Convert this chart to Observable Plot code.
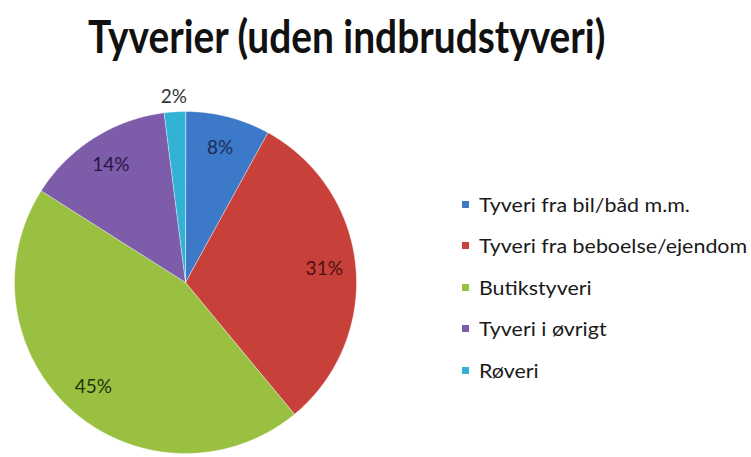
<!DOCTYPE html>
<html><head><meta charset="utf-8">
<script src="https://cdn.jsdelivr.net/npm/d3@7"></script>
<script src="https://cdn.jsdelivr.net/npm/@observablehq/plot@0.6"></script>
<style>
body{margin:0;background:#fff;font-family:Lato,"Open Sans",sans-serif;}
#wrap{position:relative;width:751px;height:457px;overflow:hidden;background:#fff}
#title{position:absolute;left:88px;top:13px;font-size:46px;line-height:46px;font-weight:bold;color:#111;white-space:nowrap;transform-origin:left center}
#chart{position:absolute;left:0;top:80px}
.lg{position:absolute;left:462px;height:20px;display:flex;align-items:center;white-space:nowrap}
.lg .sw{width:7px;height:7px;margin-right:10px;flex:none}
.lg .tx{font-size:19.5px;color:#1a1a1a;transform-origin:left center;display:inline-block}
</style></head><body>
<div id="wrap">
  <div id="title">Tyverier (uden indbrudstyveri)</div>
  <div id="chart"></div>
  <div id="legend"></div>
</div>
<script>
const categories = ["Tyveri fra bil/båd m.m.", "Tyveri fra beboelse/ejendom", "Butikstyveri", "Tyveri i øvrigt", "Røveri"];
const values = [8, 31, 45, 14, 2];
const labels = ["8%", "31%", "45%", "14%", "2%"];
const colors = ["#3C79C9", "#C8403A", "#99C040", "#7D5CA9", "#32B3D6"];
const labelColors = ["#1B2C55", "#4A1210", "#24330E", "#261845", "#333333"];

// Title width fit
const t = document.getElementById("title");
t.style.transform = `scaleX(${517 / t.offsetWidth})`;

const total = d3.sum(values);
const slices = [];
const labelData = [];
let acc = 0;
values.forEach((v, i) => {
  const a0 = acc / total * 2 * Math.PI;
  acc += v;
  const a1 = acc / total * 2 * Math.PI;
  slices.push({cat: categories[i], x: 0, y: 0});
  const n = Math.max(2, Math.ceil((a1 - a0) / (Math.PI / 360)));
  for (let k = 0; k <= n; k++) {
    const a = a0 + (a1 - a0) * k / n;
    slices.push({cat: categories[i], x: Math.sin(a), y: Math.cos(a)});
  }
  const am = (a0 + a1) / 2;
  const rr = v < 5 ? 1.085 : 0.815;
  labelData.push({cat: categories[i], x: rr * Math.sin(am), y: rr * Math.cos(am), text: labels[i], color: labelColors[i]});
});

const R = 171, cx = 185, cyTop = 202, W = 751, H = 377;
const chart = Plot.plot({
  width: W, height: H,
  marginLeft: cx - R, marginRight: W - (cx + R),
  marginTop: cyTop - R, marginBottom: H - (cyTop + R),
  x: {domain: [-1, 1], axis: null},
  y: {domain: [-1, 1], axis: null},
  color: {domain: categories, range: colors},
  style: {background: "transparent", overflow: "visible"},
  marks: [
    Plot.line(slices, {x: "x", y: "y", z: "cat", fill: "cat", stroke: "#ffffff", strokeWidth: 0.6, strokeOpacity: 0.7, curve: "linear-closed"}),
    ...labelData.map(d => Plot.text([d], {x: "x", y: "y", text: "text", fill: d.color, fontSize: 19, fontFamily: "Lato, sans-serif"}))
  ]
});
document.getElementById("chart").append(chart);

// Legend
const lg = document.getElementById("legend");
const tx = [];
categories.forEach((c, i) => {
  const row = document.createElement("div");
  row.className = "lg";
  row.style.top = (194 + i * 41.5) + "px";
  const sw = document.createElement("span");
  sw.className = "sw";
  sw.style.background = colors[i];
  const s = document.createElement("span");
  s.className = "tx";
  s.textContent = c;
  row.append(sw, s);
  lg.append(row);
  tx.push(s);
});
const maxW = d3.max(tx, s => s.offsetWidth);
const sc = 268 / maxW;
tx.forEach(s => s.style.transform = `scaleX(${sc})`);
</script>
</body></html>
